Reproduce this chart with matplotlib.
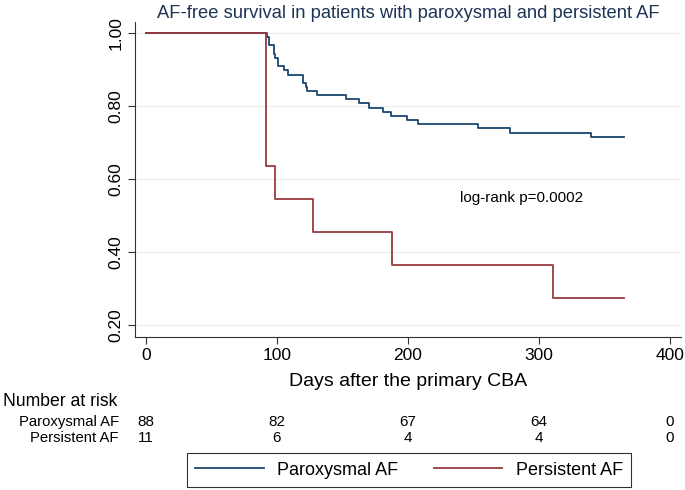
import matplotlib
matplotlib.use("Agg")
import matplotlib.pyplot as plt
import matplotlib.transforms as mtransforms

plt.rcParams['font.family'] = ['Liberation Sans', 'DejaVu Sans']

# Kaplan-Meier steps
parox_t = [0, 92.3, 94.1, 97.7, 98.5, 101, 105.3, 108.2, 120, 122, 123, 130.3,
           152.4, 162.6, 170, 181, 187, 199, 208, 253.7, 277.9, 339.5, 365]
parox_s = [1.0, 0.989, 0.966, 0.943, 0.932, 0.909, 0.898, 0.886, 0.864, 0.852,
           0.841, 0.830, 0.818, 0.807, 0.795, 0.784, 0.773, 0.761, 0.750, 0.739,
           0.727, 0.716, 0.716]

pers_t = [0, 91.4, 98.5, 127.3, 187.6, 310.5, 365]
pers_s = [1.0, 0.636, 0.545, 0.455, 0.364, 0.273, 0.273]

risk_days = [0, 100, 200, 300, 400]
risk_parox = [88, 82, 67, 64, 0]
risk_pers = [11, 6, 4, 4, 0]

blue = '#1a476f'
red = '#983a40'

fig = plt.figure(figsize=(6.85, 4.9), dpi=100)
ax = fig.add_axes([0.197, 0.312, 0.797, 0.643])

ax.step(parox_t, parox_s, where='post', color=blue, lw=1.3, label='Paroxysmal AF')
ax.step(pers_t, pers_s, where='post', color=red, lw=1.3, label='Persistent AF')

ax.set_xlim(-8.4, 408.4)
ax.set_ylim(0.167, 1.030)
ax.set_xticks([0, 100, 200, 300, 400])
ax.set_yticks([0.2, 0.4, 0.6, 0.8, 1.0])
ax.set_yticklabels(['0.20', '0.40', '0.60', '0.80', '1.00'], rotation=90, va='center')
ax.tick_params(labelsize=12.5, length=5, width=0.8, color='#333333', pad=3)
ax.grid(axis='y', color='#eaf2f3', lw=1.0)
ax.set_axisbelow(True)
for s in ['top', 'right']:
    ax.spines[s].set_visible(False)
for s in ['left', 'bottom']:
    ax.spines[s].set_linewidth(0.8)
    ax.spines[s].set_color('#333333')

ax.set_title('AF-free survival in patients with paroxysmal and persistent AF',
             fontsize=13.2, color='#1e3456', pad=3)
ax.set_xlabel('Days after the primary CBA', fontsize=14, labelpad=7)

ax.text(240, 0.547, 'log-rank p=0.0002', fontsize=11, ha='left', va='center')

# number at risk table
trans = mtransforms.blended_transform_factory(ax.transData, fig.transFigure)
fig.text(3 / 685, 1 - 402 / 490, 'Number at risk', fontsize=12.7, va='center', ha='left')
fig.text(119 / 685, 1 - 421.5 / 490, 'Paroxysmal AF', fontsize=10.7, va='center', ha='right')
fig.text(119 / 685, 1 - 438 / 490, 'Persistent AF', fontsize=10.7, va='center', ha='right')
for d, a, b in zip(risk_days, risk_parox, risk_pers):
    ax.text(d, 1 - 421.5 / 490, str(a), transform=trans, fontsize=11,
            ha='center', va='center', clip_on=False)
    ax.text(d, 1 - 438 / 490, str(b), transform=trans, fontsize=11,
            ha='center', va='center', clip_on=False)

leg = fig.legend(loc='center', bbox_to_anchor=(409 / 685, 1 - 470 / 490), ncol=2,
                 fontsize=13, frameon=True, fancybox=False, edgecolor='black',
                 handlelength=3.8, columnspacing=1.95, handletextpad=0.75,
                 borderpad=0.45, borderaxespad=0)
leg.get_frame().set_linewidth(0.8)

fig.savefig('out.png', dpi=100)
